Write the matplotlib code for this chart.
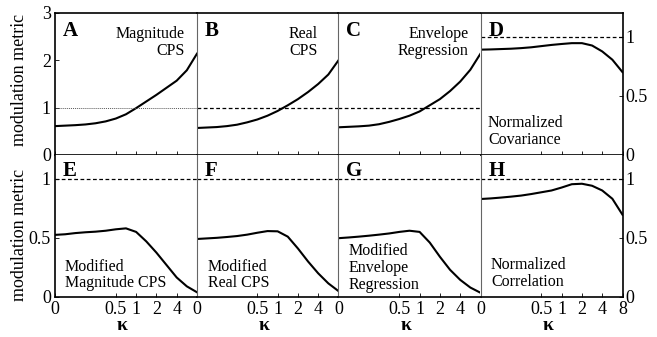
import matplotlib
matplotlib.use("Agg")
import matplotlib.pyplot as plt
from matplotlib.ticker import NullLocator, FixedLocator, FixedFormatter

plt.rcParams['font.family'] = ['Liberation Serif', 'DejaVu Serif']

# kappa sampled at half-octave steps; left edge of the axis is shown as "0"
kappa = [0.0625, 0.0884, 0.125, 0.177, 0.25, 0.354, 0.5, 0.707,
         1.0, 1.414, 2.0, 2.828, 4.0, 5.657, 8.0]

# top row (A-C on left axis 0-3, D on right axis 0-1.2)
mag_cps = [0.61, 0.62, 0.63, 0.645, 0.67, 0.71, 0.77, 0.86,
           0.99, 1.13, 1.27, 1.42, 1.57, 1.79, 2.14]
real_cps = [0.57, 0.58, 0.59, 0.61, 0.64, 0.69, 0.75, 0.83,
            0.93, 1.05, 1.18, 1.33, 1.50, 1.70, 2.0]
env_reg = [0.585, 0.595, 0.605, 0.62, 0.65, 0.70, 0.76, 0.83,
           0.92, 1.05, 1.18, 1.35, 1.55, 1.80, 2.14]
norm_cov = [0.89, 0.892, 0.895, 0.898, 0.903, 0.91, 0.92, 0.93,
            0.938, 0.945, 0.945, 0.925, 0.875, 0.805, 0.70]

# bottom row (0-1.2)
mod_mag = [0.525, 0.53, 0.54, 0.547, 0.552, 0.56, 0.572, 0.58,
           0.55, 0.47, 0.375, 0.27, 0.165, 0.09, 0.04]
mod_real = [0.49, 0.495, 0.50, 0.507, 0.515, 0.527, 0.543, 0.557,
            0.555, 0.51, 0.41, 0.30, 0.20, 0.115, 0.05]
mod_env = [0.497, 0.503, 0.51, 0.518, 0.527, 0.537, 0.55, 0.56,
           0.55, 0.46, 0.34, 0.23, 0.145, 0.08, 0.036]
norm_corr = [0.828, 0.833, 0.84, 0.848, 0.857, 0.87, 0.885, 0.90,
             0.925, 0.953, 0.957, 0.94, 0.90, 0.83, 0.695]

letters = ['A', 'B', 'C', 'D', 'E', 'F', 'G', 'H']
series = [mag_cps, real_cps, env_reg, norm_cov, mod_mag, mod_real, mod_env, norm_corr]
notes = ["Magnitude\nCPS", "Real\nCPS", "Envelope\nRegression", "Normalized\nCovariance",
         "Modified\nMagnitude CPS", "Modified\nReal CPS", "Modified\nEnvelope\nRegression",
         "Normalized\nCorrelation"]
# note placement (x, y, ha) in axes fraction
note_pos = [(0.915, 0.79, 'right'), (0.856, 0.79, 'right'), (0.919, 0.79, 'right'),
            (0.053, 0.165, 'left'), (0.07, 0.155, 'left'), (0.081, 0.155, 'left'),
            (0.074, 0.204, 'left'), (0.074, 0.165, 'left')]

xticks = [0.0625, 0.5, 1, 2, 4]
xlabels = ['0', '0.5', '1', '2', '4']

fig = plt.figure(figsize=(6.57, 3.37), dpi=100)
lefts = [0.0837, 0.2991, 0.5152, 0.7314]
w = 0.2161
h = 0.4214
bottoms = [0.5401, 0.1187]

for i in range(8):
    row, col = divmod(i, 4)
    ax = fig.add_axes([lefts[col], bottoms[row], w, h])
    ax.plot(kappa, series[i], color='black', lw=1.5)
    ax.set_xscale('log', base=2)
    ax.set_xlim(1 / 16, 8)
    if row == 0 and col < 3:
        ax.set_ylim(0, 3)
    else:
        ax.set_ylim(0, 1.2)

    # reference line at 1
    if i == 0:
        ax.axhline(1, color='0.35', lw=0.7, ls=(0, (1, 1)))
    else:
        ax.axhline(1, color='black', lw=0.9, ls=(0, (3, 2)))

    ticks = xticks + [8] if col == 3 else xticks
    labs = xlabels + ['8'] if col == 3 else xlabels
    ax.xaxis.set_major_locator(FixedLocator(ticks))
    ax.xaxis.set_minor_locator(NullLocator())
    if row == 1:
        ax.xaxis.set_major_formatter(FixedFormatter(labs))
        ax.text(0.475, -0.2, 'κ', transform=ax.transAxes, ha='center', va='center',
                fontsize=14, fontweight='bold')
    else:
        ax.set_xticklabels([])
    ax.tick_params(axis='x', direction='in', length=3, width=0.6, labelsize=13, pad=3)

    # spines
    for s in ax.spines.values():
        s.set_linewidth(1.2)
    ax.spines['right'].set_visible(col == 3)
    if col > 0:
        ax.spines['left'].set_color('0.4')
        ax.spines['left'].set_linewidth(0.8)
    ax.spines['top'].set_visible(row == 0)

    # y axes
    ax.yaxis.set_minor_locator(NullLocator())
    if col == 0:
        if row == 0:
            ax.set_yticks([0, 1, 2, 3])
            ax.set_yticklabels(['0', '1', '2', '3'])
        else:
            ax.set_yticks([0, 0.5, 1])
            ax.set_yticklabels(['0', '0.5', '1'])
        ax.tick_params(axis='y', direction='in', length=3, width=0.6, labelsize=13, pad=3)
    elif col == 3:
        ax.set_yticks([0, 0.5, 1])
        ax.set_yticklabels(['0', '0.5', '1'])
        ax.yaxis.tick_right()
        ax.tick_params(axis='y', direction='in', length=3, width=0.6, labelsize=13, pad=2)
    else:
        ax.set_yticks([])

    ax.text(0.056, 0.94 if row == 0 else 0.955, letters[i], transform=ax.transAxes,
            ha='left', va='top', fontsize=15, fontweight='bold')
    nx, ny, ha = note_pos[i]
    ax.text(nx, ny, notes[i], transform=ax.transAxes, ha=ha, va='center',
            multialignment=ha, fontsize=11.5, linespacing=1.05)

fig.text(0.029, 0.763, 'modulation metric', rotation=90, ha='center', va='center', fontsize=13)
fig.text(0.029, 0.303, 'modulation metric', rotation=90, ha='center', va='center', fontsize=13)

fig.savefig('out.png', dpi=100)
